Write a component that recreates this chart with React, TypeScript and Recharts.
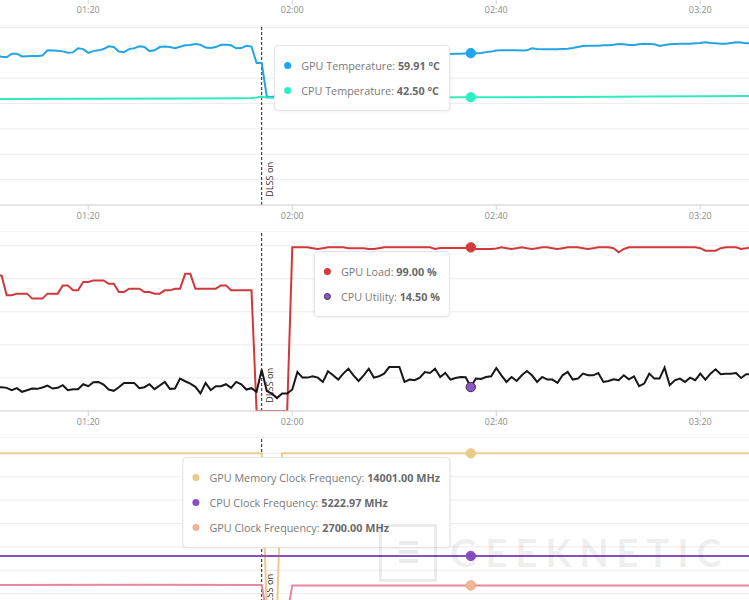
import React from "react";
import { CartesianGrid, Line, LineChart, ReferenceLine, Tooltip, XAxis, YAxis } from "recharts";

// one sample per second, first sample at 01:02
const START = 62;
const ACTIVE = 93; // index of 02:35, where the tooltips are pinned
const DLSS_AT = 114;
const X_DOMAIN = [62.69, 209.55];
const X_TICKS = [80, 120, 160, 200];

const tempTicks = [0, 10, 20, 30, 40, 50, 60, 70];
const loadTicks = [0, 10, 20, 30, 40, 50, 60, 70, 80, 90, 100];
const clockTicks = [0, 2000, 4000, 6000, 8000, 10000, 12000, 14000];

// °C
const gpuTemp = [
  58.9, 58.5, 58.3, 59.7, 59.7, 58.6, 58.7, 58.8, 58.8, 59.0,
  61.0, 60.9, 60.8, 60.6, 60.1, 60.2, 61.8, 61.5, 60.0, 60.7,
  61.0, 61.5, 62.6, 62.3, 60.5, 60.3, 61.5, 61.8, 62.6, 62.3,
  60.7, 61.0, 62.3, 62.5, 62.3, 61.8, 62.4, 63.0, 63.1, 63.5,
  63.2, 62.1, 61.9, 62.3, 63.2, 63.2, 63.0, 61.8, 61.9, 62.8,
  62.5, 56.0, 56.0, 42.8, 42.6, 43.0, 46.0, 50.0, 53.0, 55.0,
  56.5, 57.2, 57.6, 58.0, 58.3, 58.5, 58.6, 58.8, 58.9, 59.0,
  59.0, 59.1, 59.1, 59.2, 59.2, 59.3, 59.3, 59.3, 59.4, 59.4,
  59.4, 59.5, 59.5, 59.5, 59.5, 59.6, 59.6, 59.6, 59.6, 59.6,
  59.7, 59.7, 59.8, 59.91, 59.9, 60.0, 60.3, 60.5, 60.9, 61.0,
  61.0, 61.0, 61.0, 60.9, 61.0, 61.8, 61.5, 61.4, 61.4, 61.4,
  61.4, 61.5, 61.6, 61.9, 62.3, 62.7, 62.8, 62.8, 62.8, 63.0,
  63.0, 63.2, 63.5, 63.4, 63.1, 63.1, 63.4, 63.6, 63.5, 63.4,
  62.7, 63.1, 63.4, 63.5, 63.6, 63.6, 63.6, 63.8, 63.9, 64.2,
  63.9, 63.8, 63.6, 63.6, 63.9, 64.2, 64.1, 63.8, 63.8,
];

// %
const gpuLoad = [
  82, 82, 70, 70, 71, 71, 71, 68, 68, 68,
  71, 71, 71, 76, 76, 73, 73, 78, 78, 79,
  79, 79, 77, 77, 72, 72, 74, 74, 74, 72,
  72, 71, 71, 73, 73, 74, 74, 83, 83, 74,
  74, 74, 74, 74, 76, 76, 73, 73, 73, 73,
  73, 0, 0, 0, 0, 0, 0, 0, 99, 99,
  99, 99, 98.5, 98, 98.5, 99, 99, 99, 99, 98.5,
  98.5, 98.5, 98.5, 98, 98, 98.5, 99, 99, 99, 99,
  99, 99, 99, 99, 99, 99, 98, 98.6, 98.6, 98.6,
  98.6, 98.6, 98.6, 99, 98, 98, 98, 98, 98.3, 99,
  98.5, 98, 98.5, 99, 98.5, 98, 98.5, 99, 99, 98.5,
  98, 98.5, 99, 99, 99, 98.5, 98, 98.5, 99, 99,
  99, 98.5, 96, 98, 99, 99, 99, 99, 99, 99,
  99, 99, 99, 99, 99, 99, 99, 99, 98.5, 97,
  97, 97, 98.5, 99, 99, 99, 98, 98.5, 99,
];

// %
const cpuUtil = [
  14.6, 14.3, 14.0, 12.6, 13.8, 11.6, 12.6, 13.6, 13.4, 14.2,
  15.4, 13.6, 14.0, 15.6, 12.6, 13.2, 13.2, 16.2, 15.0, 17.4,
  17.6, 16.0, 13.0, 12.2, 14.4, 17.0, 17.0, 17.0, 13.8, 14.4,
  16.2, 13.2, 15.4, 17.6, 13.4, 13.6, 19.6, 18.0, 16.6, 14.6,
  10.6, 17.0, 12.6, 15.0, 15.0, 16.2, 14.0, 17.6, 16.2, 13.0,
  13.8, 11.6, 25.0, 12.0, 10.5, 7.8, 10.6, 10.6, 13.0, 23.6,
  20.2, 20.2, 21.0, 20.2, 17.6, 24.0, 21.6, 19.0, 22.6, 25.6,
  21.6, 18.2, 21.6, 25.6, 20.2, 21.0, 22.6, 26.6, 26.6, 26.6,
  17.6, 19.0, 18.6, 20.2, 23.6, 23.0, 25.6, 20.6, 23.0, 19.0,
  20.0, 20.6, 20.4, 14.5, 19.6, 19.4, 20.6, 21.0, 26.0, 21.6,
  17.6, 20.6, 18.2, 21.6, 24.2, 21.6, 17.6, 20.6, 19.0, 19.0,
  17.0, 21.6, 23.6, 19.0, 19.6, 22.6, 21.6, 21.6, 23.0, 17.6,
  18.2, 19.2, 18.6, 21.6, 19.2, 21.0, 15.0, 16.6, 22.6, 19.6,
  19.6, 26.2, 15.6, 18.6, 19.6, 17.6, 20.2, 18.6, 22.6, 19.0,
  22.6, 25.2, 22.2, 22.6, 22.6, 23.0, 20.0, 22.2, 22.2,
];

// slow series, read only where they change: [second, value]
const cpuTempPts = [
  [62, 41.8], [80, 41.9], [100, 42.0], [110, 42.1], [112, 42.2], [113, 42.4], [114, 42.8],
  [115, 42.3], [116, 42.3], [140, 42.4], [155, 42.5], [175, 42.6], [190, 42.8], [200, 42.9], [210, 43.0],
];
const gpuMemPts = [
  [62, 14001], [113, 14001], [114, 14001], [115, 405], [116, 405], [117, 405], [118, 14001],
  [155, 14001], [210, 14001],
];
const cpuClockPts = [[62, 5223.0], [113, 5223.0], [155, 5222.97], [210, 5223.0]];
const gpuClockPts = [
  [62, 2730], [90, 2760], [113, 2745], [114, 2745], [115, 210], [116, 210], [117, 210],
  [118, 210], [119, 210], [120, 2700], [155, 2700], [210, 2700],
];

const at = (pts: number[][], t: number) => {
  const p = pts.find((q) => q[0] === t);
  return p ? p[1] : null;
};

const rows = gpuTemp.map((v, i) => {
  const t = START + i;
  return {
    t,
    gpuTemp: v,
    cpuTemp: at(cpuTempPts, t),
    gpuLoad: gpuLoad[i],
    cpuUtil: cpuUtil[i],
    gpuMem: at(gpuMemPts, t),
    cpuClock: at(cpuClockPts, t),
    gpuClock: at(gpuClockPts, t),
  };
});

type Series = { key: string; name: string; unit: string; stroke: string; marker: string; ring?: string };

// the clock panel's own time labels fall below the picture, so it draws none
const panels: { top: number; domain: number[]; ticks: number[]; labels: boolean; series: Series[] }[] = [
  {
    top: 25,
    domain: [0, 71],
    ticks: tempTicks,
    labels: true,
    series: [
      { key: "gpuTemp", name: "GPU Temperature", unit: "°C", stroke: "#25a4e4", marker: "#1ea6ef" },
      { key: "cpuTemp", name: "CPU Temperature", unit: "°C", stroke: "#30ebc0", marker: "#2cf0c2" },
    ],
  },
  {
    top: 231,
    domain: [0, 108.9],
    ticks: loadTicks,
    labels: true,
    series: [
      { key: "gpuLoad", name: "GPU Load", unit: "%", stroke: "#d0383b", marker: "#d43a3c" },
      { key: "cpuUtil", name: "CPU Utility", unit: "%", stroke: "#171717", marker: "#8b55c6", ring: "#3b2a4d" },
    ],
  },
  {
    top: 437,
    domain: [0, 15401],
    ticks: clockTicks,
    labels: false,
    series: [
      { key: "gpuMem", name: "GPU Memory Clock Frequency", unit: "MHz", stroke: "#eccb8c", marker: "#ebc98a" },
      { key: "cpuClock", name: "CPU Clock Frequency", unit: "MHz", stroke: "#8a4ec4", marker: "#8a4fc8" },
      { key: "gpuClock", name: "GPU Clock Frequency", unit: "MHz", stroke: "#e7889f", marker: "#f2b98e", ring: "#eea39a" },
    ],
  },
];

const mmss = (t: number) =>
  `${String(Math.floor(t / 60)).padStart(2, "0")}:${String(t % 60).padStart(2, "0")}`;

const font = '"Open Sans", sans-serif';

function TipBox({ active, payload, series }: any) {
  if (!active || !payload || !payload.length) return null;
  const row = payload[0].payload;
  return (
    <div
      style={{
        transform: "translateX(-100%)",
        background: "#fff",
        border: "1px solid #e4e4e4",
        borderRadius: 4,
        boxShadow: "0 1px 3px rgba(0,0,0,0.05)",
        padding: "7px 9px 7px 26px",
        fontFamily: font,
        fontSize: 10.8,
        color: "#7a7a7a",
        whiteSpace: "nowrap",
      }}
    >
      {series.map((s: Series) => (
        <div key={s.key} style={{ position: "relative", height: 25, lineHeight: "25px" }}>
          <span
            style={{
              position: "absolute",
              left: -17,
              top: 9,
              width: 7,
              height: 7,
              borderRadius: "50%",
              background: s.marker,
              boxSizing: "border-box",
              border: s.ring ? `1px solid ${s.ring}` : "none",
            }}
          />
          {s.name}: <b style={{ color: "#6a6a6a" }}>{row[s.key].toFixed(2)} {s.unit}</b>
        </div>
      ))}
    </div>
  );
}

function DlssLabel({ viewBox }: any) {
  if (!viewBox) return null;
  const x = viewBox.x + 11.5;
  const y = viewBox.y + viewBox.height - 8;
  return (
    <text x={x} y={y} transform={`rotate(-90 ${x} ${y})`} fontSize={9.2} fill="#333" fontFamily={font}>
      DLSS on
    </text>
  );
}

const timeAxis = (labels: boolean) => (
  <XAxis
    dataKey="t"
    type="number"
    domain={X_DOMAIN}
    allowDataOverflow
    ticks={X_TICKS}
    interval={0}
    tickFormatter={mmss}
    tick={labels ? { fontSize: 9, fill: "#8c8c8c", fontFamily: font } : false}
    tickLine={{ stroke: "#d6d6d6" }}
    axisLine={{ stroke: "#d6d6d6" }}
    tickSize={5}
    tickMargin={3}
    height={26}
  />
);

export default function App() {
  return (
    <div style={{ position: "absolute", left: 0, top: 0, width: 749, height: 600, overflow: "hidden", background: "#fff" }}>
      {/* bottom axis of the panel above, only its labels show */}
      <div style={{ position: "absolute", left: 0, top: -181 }}>
        <LineChart width={749} height={206} data={rows} margin={{ top: 0, right: 0, bottom: 0, left: 0 }}>
          {timeAxis(true)}
          <YAxis hide domain={[0, 100]} />
        </LineChart>
      </div>
      {panels.map((p) => (
        <div key={p.top} style={{ position: "absolute", left: 0, top: p.top }}>
          <LineChart width={749} height={206} data={rows} margin={{ top: 0, right: 0, bottom: 0, left: 0 }}>
            <CartesianGrid vertical={false} stroke="#ececec" />
            {timeAxis(p.labels)}
            <YAxis hide domain={p.domain} ticks={p.ticks} allowDataOverflow />
            <ReferenceLine x={DLSS_AT} stroke="#222" strokeDasharray="3 2" label={<DlssLabel />} />
            {p.series.map((s) => (
              <Line
                key={s.key}
                dataKey={s.key}
                name={s.name}
                type="linear"
                stroke={s.stroke}
                strokeWidth={2}
                dot={false}
                connectNulls
                activeDot={{ r: 4.7, fill: s.marker, stroke: s.ring ?? s.marker, strokeWidth: 1 }}
                isAnimationActive={false}
              />
            ))}
            <Tooltip
              defaultIndex={ACTIVE}
              cursor={false}
              isAnimationActive={false}
              position={{ x: 450, y: 20 }}
              wrapperStyle={{ outline: "none" }}
              content={(props: any) => <TipBox {...props} series={p.series} />}
            />
          </LineChart>
        </div>
      ))}
      {/* watermark */}
      <div
        style={{
          position: "absolute",
          left: 379,
          top: 524,
          width: 52,
          height: 52,
          border: "3px solid rgba(0,0,0,0.08)",
        }}
      >
        {[0, 1, 2].map((k) => (
          <div
            key={k}
            style={{ position: "absolute", left: 17, top: 14 + k * 9, width: 19, height: 4, background: "rgba(0,0,0,0.08)" }}
          />
        ))}
      </div>
      <div
        style={{
          position: "absolute",
          left: 450,
          top: 528,
          fontFamily: "Lato, sans-serif",
          fontWeight: 700,
          fontSize: 38,
          letterSpacing: 8,
          lineHeight: "48px",
          color: "rgba(0,0,0,0.08)",
        }}
      >
        GEEKNETIC
      </div>
    </div>
  );
}
